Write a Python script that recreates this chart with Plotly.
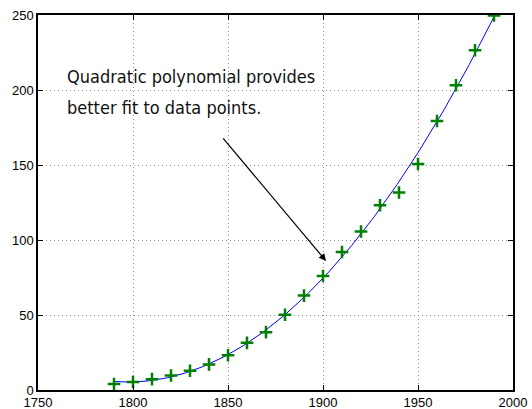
import numpy as np
import plotly.graph_objects as go

years = list(range(1790, 2000, 10))
population = [3.929, 5.308, 7.240, 9.638, 12.866, 17.069, 23.192, 31.443, 38.558,
              50.156, 62.948, 75.995, 91.972, 105.711, 123.203, 131.669, 150.697,
              179.323, 203.212, 226.505, 249.633]
x_ticks = [1750, 1800, 1850, 1900, 1950, 2000]
y_ticks = [0, 50, 100, 150, 200, 250]
note_lines = ["Quadratic polynomial provides", "better fit to data points."]

# quadratic least-squares fit (the curve in the chart)
xa = np.array(years, dtype=float)
coef = np.polyfit(xa - 1890, np.array(population), 2)
xf = np.arange(1790, 1991, 1.0)
yf = np.polyval(coef, xf - 1890)

fig = go.Figure()
fig.add_trace(go.Scatter(x=xf, y=yf, mode="lines",
                         line=dict(color="#0000ff", width=1), hoverinfo="skip"))
fig.add_trace(go.Scatter(x=years, y=population, mode="markers",
                         marker=dict(symbol="cross-thin", size=9,
                                     line=dict(color="#008000", width=2.5))))

note_font = dict(family="DejaVu Sans Condensed, Liberation Sans Narrow, sans-serif",
                 size=18, color="#111111")
for txt, yv in zip(note_lines, [209, 188.5]):
    fig.add_annotation(x=1764.2, y=yv, xref="x", yref="y", text=txt, showarrow=False,
                       xanchor="left", yanchor="middle", align="left", font=note_font)
fig.add_annotation(x=1901.6, y=86, ax=1846.8, ay=168.7, xref="x", yref="y",
                   axref="x", ayref="y", text="", showarrow=True, arrowhead=2,
                   arrowsize=1.2, arrowwidth=1.2, arrowcolor="black")

axis_common = dict(showline=True, linecolor="black", linewidth=1.5, mirror="ticks",
                   ticks="inside", ticklen=5, tickcolor="black", automargin=False,
                   showgrid=True, gridcolor="#8a8a8a", griddash="1px,3px", gridwidth=1,
                   zeroline=False,
                   tickfont=dict(family="Liberation Sans, Arial, sans-serif", size=13,
                                 color="black"))
fig.update_xaxes(range=[1750, 2000], tickvals=x_ticks, **axis_common)
fig.update_yaxes(range=[0, 250], tickvals=y_ticks, **axis_common)

fig.update_layout(width=532, height=409, margin=dict(l=38, r=19, t=15, b=19),
                  paper_bgcolor="white", plot_bgcolor="white", showlegend=False)
fig.write_html("out.html", config={"displayModeBar": False},
               post_script="document.body.style.margin='0';"
                           "document.body.style.overflow='hidden';")
